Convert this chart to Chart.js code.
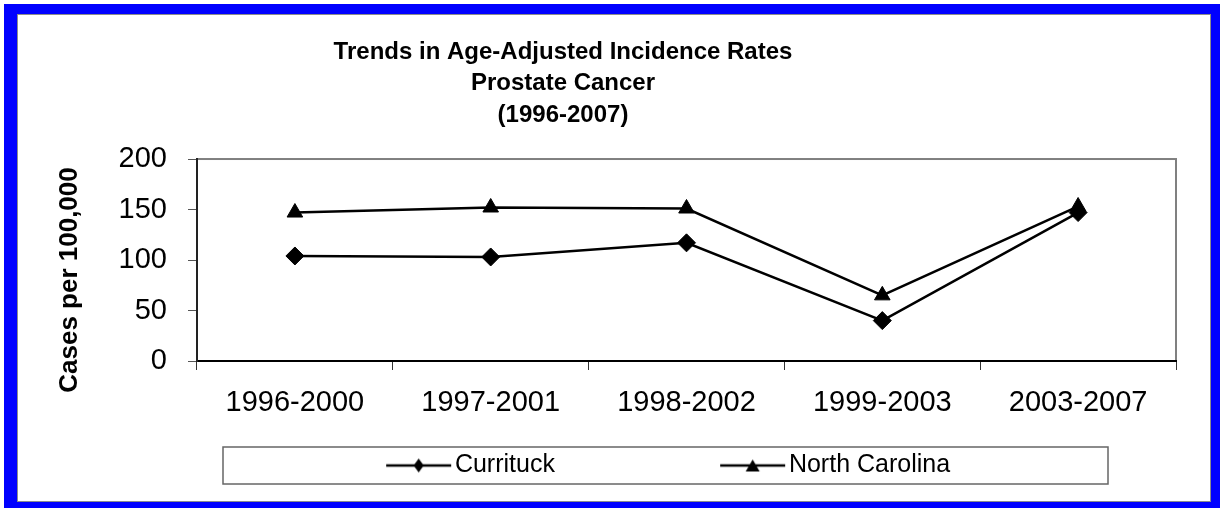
<!DOCTYPE html>
<html>
<head>
<meta charset="utf-8">
<script src="https://cdn.jsdelivr.net/npm/chart.js@4"></script>
<style>
  html, body { margin: 0; padding: 0; background: #fff; }
  body { width: 1220px; height: 508px; position: relative; overflow: hidden; }
  #frame {
    position: absolute; left: 4px; top: 4px; width: 1216px; height: 504px;
    box-sizing: border-box; border-style: solid; border-color: #0000ff;
    border-width: 10px 9px 6px 13px; background: #fff;
    box-shadow: inset 0 0 0 1px #8c8c8c;
  }
  #wrap { position: absolute; left: 0; top: 0; width: 1220px; height: 508px; }
</style>
</head>
<body>
<div id="frame"></div>
<div id="wrap"><canvas id="chart" width="1220" height="508"></canvas></div>
<script>
// Reporting periods (5-year windows)
const categories = ['1996-2000', '1997-2001', '1998-2002', '1999-2003', '2003-2007'];

// Age-adjusted prostate cancer incidence, cases per 100,000
const currituck = [104, 103, 117, 40, 147];
const northCarolina = [147, 152, 151, 65, 153];

const seriesNames = ['Currituck', 'North Carolina'];
const yTicks = [0, 50, 100, 150, 200];

const titleLines = ['Trends in Age-Adjusted Incidence Rates', 'Prostate Cancer', '(1996-2007)'];
const yTitle = 'Cases per 100,000';

const FONT = '"Liberation Sans", Arial, Helvetica, sans-serif';

// Legend swatch: a short line with the series marker in its middle
function legendSwatch(shape, boxW) {
  const pad = 12;
  const c = document.createElement('canvas');
  c.width = boxW + 2 * pad;
  c.height = 24;
  const g = c.getContext('2d');
  const x1 = pad + boxW + 8.5;
  const x0 = x1 - 65;
  const cy = 12, cx = (x0 + x1) / 2;
  g.strokeStyle = '#000';
  g.lineWidth = 2.5;
  g.beginPath(); g.moveTo(x0, cy); g.lineTo(x1, cy); g.stroke();
  g.fillStyle = '#000';
  g.beginPath();
  if (shape === 'diamond') {
    g.moveTo(cx, cy - 7); g.lineTo(cx + 5, cy); g.lineTo(cx, cy + 7); g.lineTo(cx - 5, cy);
  } else {
    g.moveTo(cx, cy - 6); g.lineTo(cx + 7, cy + 6); g.lineTo(cx - 7, cy + 6);
  }
  g.closePath(); g.fill();
  return c;
}

const LEGEND_BOX = 189.5;
const swatches = [legendSwatch('diamond', LEGEND_BOX), legendSwatch('triangle', LEGEND_BOX)];

// Gray frame on the top and right of the plot area
const plotFrame = {
  id: 'plotFrame',
  beforeDraw(chart) {
    const { ctx, chartArea: a } = chart;
    ctx.save();
    ctx.strokeStyle = '#808080';
    ctx.lineWidth = 2;
    ctx.strokeRect(a.left, a.top, a.right - a.left, a.bottom - a.top);
    ctx.restore();
  }
};

// Move the title and legend blocks sideways after layout
const boxShift = {
  id: 'boxShift',
  afterLayout(chart, args, opts) {
    const t = chart.titleBlock;
    if (t) { t.left += opts.title; t.right += opts.title; }
    const l = chart.legend;
    if (l) { l.left += opts.legend; l.right += opts.legend; }
  }
};

// Rotated value-axis caption
const axisCaption = {
  id: 'axisCaption',
  afterDraw(chart, args, opts) {
    const { ctx, chartArea: a } = chart;
    ctx.save();
    ctx.translate(opts.x, (a.top + a.bottom) / 2 + opts.dy);
    ctx.rotate(-Math.PI / 2);
    ctx.font = 'bold 26px ' + FONT;
    ctx.fillStyle = '#000';
    ctx.textAlign = 'center';
    ctx.textBaseline = 'middle';
    ctx.fillText(opts.text, 0, 0);
    ctx.restore();
  }
};

// Box around the legend row
const legendFrame = {
  id: 'legendFrame',
  afterDraw(chart, args, opts) {
    const { ctx } = chart;
    ctx.save();
    ctx.strokeStyle = '#666';
    ctx.lineWidth = 1.5;
    ctx.strokeRect(opts.left, opts.top, opts.right - opts.left, opts.bottom - opts.top);
    ctx.restore();
  }
};

new Chart(document.getElementById('chart'), {
  type: 'line',
  data: {
    labels: categories,
    datasets: [
      {
        label: seriesNames[0],
        data: currituck,
        borderColor: '#000',
        backgroundColor: '#000',
        borderWidth: 2.5,
        pointStyle: 'rectRot',
        pointRadius: 9,
        pointHoverRadius: 9,
        pointBorderWidth: 1,
        pointBackgroundColor: '#000',
        pointBorderColor: '#000',
        tension: 0
      },
      {
        label: seriesNames[1],
        data: northCarolina,
        borderColor: '#000',
        backgroundColor: '#000',
        borderWidth: 2.5,
        pointStyle: 'triangle',
        pointRadius: 9,
        pointHoverRadius: 9,
        pointBorderWidth: 1,
        pointBackgroundColor: '#000',
        pointBorderColor: '#000',
        tension: 0
      }
    ]
  },
  options: {
    responsive: false,
    animation: false,
    devicePixelRatio: 1,
    layout: { padding: { top: 0, left: 39, right: 44, bottom: 20 } },
    scales: {
      x: {
        offset: true,
        grid: { offset: true, drawOnChartArea: false, drawTicks: true, tickLength: 9, color: '#333', lineWidth: 1 },
        border: { display: true, color: '#000', width: 2 },
        ticks: {
          color: '#000',
          font: { family: FONT, size: 29, lineHeight: 1.2 },
          padding: 16,
          autoSkip: false,
          maxRotation: 0
        },
        afterFit(scale) { scale.height = 60; }
      },
      y: {
        min: yTicks[0],
        max: yTicks[yTicks.length - 1],
        grid: { drawOnChartArea: false, drawTicks: true, tickLength: 9, color: '#555', lineWidth: 1 },
        border: { display: true, color: '#222', width: 2 },
        ticks: {
          stepSize: yTicks[1] - yTicks[0],
          color: '#000',
          font: { family: FONT, size: 29, lineHeight: 1.2 },
          padding: 21
        },
        afterFit(scale) { scale.width = 158; }
      }
    },
    plugins: {
      title: {
        display: true,
        text: titleLines,
        color: '#000',
        font: { family: FONT, size: 24, weight: 'bold', lineHeight: 1.31 },
        padding: { top: 36.5, bottom: 28.2 }
      },
      boxShift: { title: -44.5, legend: -6 },
      axisCaption: { text: yTitle, x: 70, dy: 20 },
      legendFrame: { left: 223, top: 447, right: 1108, bottom: 484 },
      legend: {
        display: true,
        position: 'bottom',
        labels: {
          color: '#000',
          font: { family: FONT, size: 25 },
          padding: 32,
          usePointStyle: true,
          pointStyleWidth: LEGEND_BOX,
          generateLabels(chart) {
            return Chart.defaults.plugins.legend.labels.generateLabels(chart)
              .map((item, i) => Object.assign(item, { pointStyle: swatches[i] }));
          }
        }
      },
      tooltip: { enabled: false }
    }
  },
  plugins: [plotFrame, boxShift, axisCaption, legendFrame]
});
</script>
</body>
</html>
